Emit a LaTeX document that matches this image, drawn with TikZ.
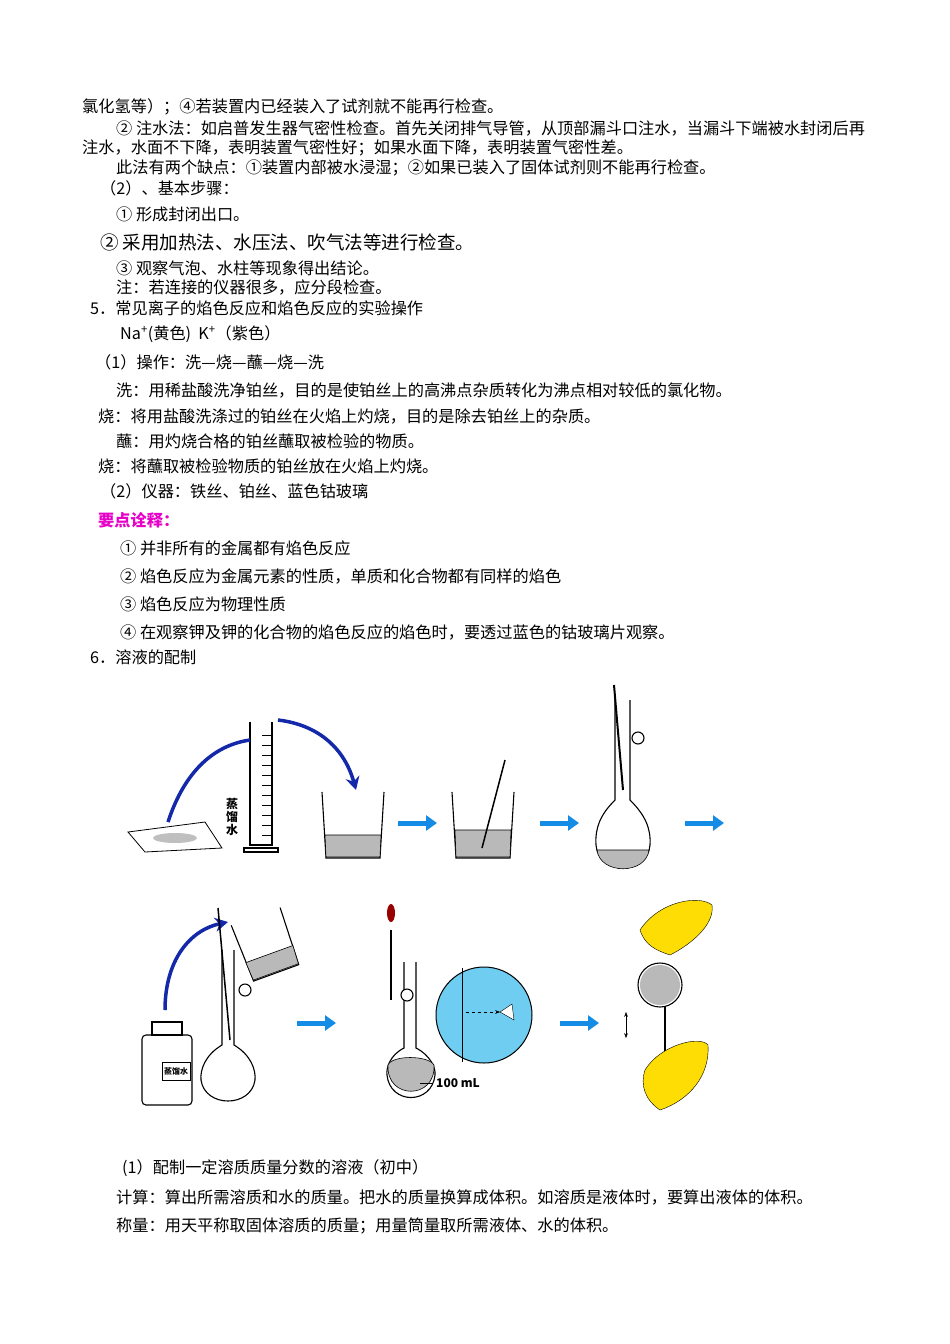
\documentclass[tikz,border=0pt]{standalone}
\usepackage{fontspec}
\setmainfont{Noto Sans CJK SC}
\usetikzlibrary{arrows.meta}
\begin{document}
\begin{tikzpicture}[x=1pt,y=-1pt,
  t/.style={anchor=west,inner sep=0pt,font=\fontsize{16.2}{17}\selectfont},
  barrow/.style={line width=5pt,draw={rgb,255:red,20;green,140;blue,230},-{Triangle[length=11pt,width=15pt]}},
  arc/.style={line width=3.5pt,draw={rgb,255:red,20;green,40;blue,170},-{Stealth[length=13pt,width=14pt]}},
  glass/.style={draw=black,line width=1.1pt,fill=white},
  liquid/.style={fill=gray!55,draw=black,line width=0.6pt}]
\useasboundingbox[fill=white] (0,0) rectangle (950,1344);
\node[t] (l1) at (82,107) {氯化氢等）；④若装置内已经装入了试剂就不能再行检查。};
\node[t] (l2) at (116,128) {② 注水法：如启普发生器气密性检查。首先关闭排气导管，从顶部漏斗口注水，当漏斗下端被水封闭后再};
\node[t] (l3) at (82,148) {注水，水面不下降，表明装置气密性好；如果水面下降，表明装置气密性差。};
\node[t] (l4) at (116,168) {此法有两个缺点：①装置内部被水浸湿；②如果已装入了固体试剂则不能再行检查。};
\node[t] (l5) at (100,188) {（2）、基本步骤：};
\node[t] (l6) at (116,214) {① 形成封闭出口。};
\node[t,font=\fontsize{18.5}{20}\selectfont] (l7) at (100,242) {② 采用加热法、水压法、吹气法等进行检查。};
\node[t] (l8) at (116,268) {③ 观察气泡、水柱等现象得出结论。};
\node[t] (l9) at (116,287) {注：若连接的仪器很多，应分段检查。};
\node[t] (l10) at (90,308) {5．常见离子的焰色反应和焰色反应的实验操作};
\node[t] (l11) at (120,334) {Na\textsuperscript{+}(黄色)\ \ K\textsuperscript{+}（紫色）};
\node[t] (l12) at (95,362) {（1）操作：洗—烧—蘸—烧—洗};
\node[t] (l13) at (116,391) {洗：用稀盐酸洗净铂丝，目的是使铂丝上的高沸点杂质转化为沸点相对较低的氯化物。};
\node[t] (l14) at (98,416) {烧：将用盐酸洗涤过的铂丝在火焰上灼烧，目的是除去铂丝上的杂质。};
\node[t] (l15) at (116,441) {蘸：用灼烧合格的铂丝蘸取被检验的物质。};
\node[t] (l16) at (98,466) {烧：将蘸取被检验物质的铂丝放在火焰上灼烧。};
\node[t] (l17) at (100,491) {（2）仪器：铁丝、铂丝、蓝色钴玻璃};
\node[t,text={rgb,255:red,230;green,0;blue,200},font=\bfseries\fontsize{16.2}{17}\selectfont] (l18) at (98,520) {要点诠释：};
\node[t] (l19) at (120,548) {① 并非所有的金属都有焰色反应};
\node[t] (l20) at (120,576) {② 焰色反应为金属元素的性质，单质和化合物都有同样的焰色};
\node[t] (l21) at (120,604) {③ 焰色反应为物理性质};
\node[t] (l22) at (120,632) {④ 在观察钾及钾的化合物的焰色反应的焰色时，要透过蓝色的钴玻璃片观察。};
\node[t] (l23) at (90,657) {6．溶液的配制};
\node[t] (l24) at (122,1168) {(1）配制一定溶质质量分数的溶液（初中）};
\node[t] (l25) at (116,1197) {计算：算出所需溶质和水的质量。把水的质量换算成体积。如溶质是液体时，要算出液体的体积。};
\node[t] (l26) at (116,1226) {称量：用天平称取固体溶质的质量；用量筒量取所需液体、水的体积。};

% row 1
\draw[line width=0.8pt] (128,832) -- (205,822) -- (222,848) -- (145,852) -- cycle;
\fill[gray!50] (175,838) ellipse (22 and 5);
\draw[glass] (250,722) -- (250,845) -- (272,845) -- (272,722);
\draw[glass] (244,848) rectangle (278,852);
\foreach \yy in {735,745,...,835} \draw (262,\yy) -- (272,\yy);
\node[font=\bfseries\fontsize{12}{13}\selectfont,align=center,inner sep=0pt] (water1) at (232,817) {蒸\\馏\\水};
\draw[arc,-] (168,822) .. controls (185,770) and (215,745) .. (250,740);
\draw[arc] (278,720) .. controls (320,725) and (345,750) .. (356,790);
\draw[glass] (322,792) -- (326,858) -- (380,858) -- (384,792);
\draw[liquid] (325,835) -- (326,857) -- (380,857) -- (381,835) -- cycle;
\draw[barrow] (398,823) -- (437,823);
\draw[glass] (452,792) -- (456,858) -- (510,858) -- (514,792);
\draw[liquid] (455,830) -- (456,857) -- (510,857) -- (511,830) -- cycle;
\draw[line width=1.5pt] (482,848) -- (505,760);
\draw[barrow] (540,823) -- (579,823);
\draw[glass] (615,700) -- (615,800) .. controls (600,815) and (595,828) .. (596,845) .. controls (598,875) and (648,875) .. (650,845) .. controls (651,828) and (645,815) .. (630,800) -- (630,700);
\draw[liquid] (597,850) .. controls (600,875) and (646,875) .. (649,850) -- cycle;
\draw[line width=2pt] (614,685) -- (623,790);
\draw[glass] (638,738) circle (6);
\draw[barrow] (685,823) -- (724,823);

% row 2
\draw[glass,rounded corners=4pt] (142,1035) rectangle (192,1105);
\draw[glass] (152,1022) rectangle (182,1035);
\draw[thick] (162,1062) rectangle (190,1080);
\node[font=\bfseries\fontsize{8}{9}\selectfont,inner sep=0pt] (lab) at (176,1071) {蒸馏水};
\draw[arc] (165,1010) .. controls (165,960) and (190,930) .. (228,922);
\draw[glass] (222,950) -- (222,1045) .. controls (205,1055) and (200,1070) .. (201,1080) .. controls (205,1108) and (251,1108) .. (255,1080) .. controls (256,1070) and (251,1055) .. (234,1045) -- (234,950);
\draw[line width=1.5pt] (218,908) -- (230,1040);
\draw[glass,rotate around={20:(265,945)}] (240,915) -- (242,975) -- (290,975) -- (292,915);
\draw[liquid,rotate around={20:(265,945)}] (241,955) -- (242,974) -- (290,974) -- (291,955) -- cycle;
\draw[glass] (245,990) circle (6);
\draw[barrow] (297,1023) -- (336,1023);
\draw[glass] (404,962) -- (404,1048) .. controls (390,1055) and (386,1068) .. (387,1075) .. controls (390,1105) and (432,1105) .. (435,1075) .. controls (436,1068) and (430,1055) .. (416,1048) -- (416,962);
\draw[liquid] (388,1065) .. controls (386,1100) and (436,1100) .. (434,1065) .. controls (428,1055) and (392,1055) .. (388,1065) -- cycle;
\draw[line width=1.5pt] (391,930) -- (391,1000);
\fill[red!60!black] (391,913) ellipse (4 and 9);
\draw[glass] (407,995) circle (6);
\draw (420,1083) -- (433,1083);
\node[anchor=west,inner sep=0pt,font=\bfseries\fontsize{12}{13}\selectfont] (ml) at (436,1083) {100 mL};
\draw[line width=1pt,fill={rgb,255:red,110;green,205;blue,240}] (484,1015) circle (48);
\draw (462,968) -- (462,1062);
\draw[dashed,-{Stealth}] (466,1012) -- (500,1012);
\draw[fill=white] (500,1012) -- (512,1004) -- (514,1020) -- cycle;
\draw[barrow] (560,1023) -- (599,1023);
\draw[{Stealth}-{Stealth}] (626,1012) -- (626,1038);
\fill[yellow!80!orange,draw=black] (640,930) .. controls (660,900) and (700,895) .. (712,905) .. controls (715,925) and (690,945) .. (670,955) .. controls (655,950) and (645,945) .. (640,930);
\draw[glass] (665,965) -- (665,1060);
\draw[glass] (660,985) circle (22);
\fill[gray!55] (660,985) circle (20);
\fill[yellow!80!orange,draw=black] (645,1070) .. controls (660,1045) and (700,1035) .. (708,1045) .. controls (710,1075) and (690,1100) .. (660,1110) .. controls (645,1100) and (640,1085) .. (645,1070);
\end{tikzpicture}
\end{document}
